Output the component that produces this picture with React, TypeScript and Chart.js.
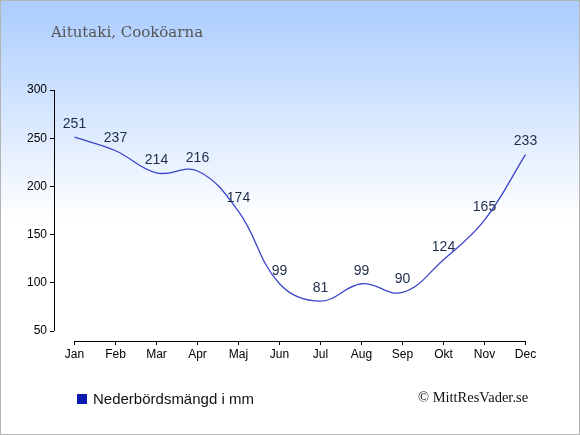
import React, { useEffect, useRef } from "react";
import { Chart, registerables } from "chart.js";

Chart.register(...registerables);

const months = ["Jan", "Feb", "Mar", "Apr", "Maj", "Jun", "Jul", "Aug", "Sep", "Okt", "Nov", "Dec"];
const rainfall = [251, 237, 214, 216, 174, 99, 81, 99, 90, 124, 165, 233];
const yTicks = [50, 100, 150, 200, 250, 300];
const titleText = "Aitutaki, Cooköarna";
const legendText = "Nederbördsmängd i mm";
const creditText = "© MittResVader.se";

const W = 580;
const H = 435;

const bgPlugin = {
  id: "bgPlugin",
  beforeDraw(chart: any) {
    const ctx = chart.ctx;
    ctx.save();
    const g = ctx.createLinearGradient(0, 0, 0, 220);
    g.addColorStop(0, "#aaccff");
    g.addColorStop(1, "#ffffff");
    ctx.fillStyle = g;
    ctx.fillRect(0, 0, W, H);
    ctx.strokeStyle = "#b4b4b4";
    ctx.lineWidth = 1;
    ctx.strokeRect(0.5, 0.5, W - 1, H - 1);
    ctx.restore();
  },
};

const axisPlugin = {
  id: "axisPlugin",
  afterDraw(chart: any) {
    const ctx = chart.ctx;
    const xs = chart.scales.x;
    const ys = chart.scales.y;
    const area = chart.chartArea;
    ctx.save();
    ctx.strokeStyle = "#000";
    ctx.lineWidth = 1;
    const ax = Math.round(area.left) + 0.5;
    ctx.beginPath();
    ctx.moveTo(ax, ys.getPixelForValue(yTicks[yTicks.length - 1]));
    ctx.lineTo(ax, ys.getPixelForValue(yTicks[0]));
    ctx.stroke();
    const ay = Math.round(area.bottom) + 0.5;
    ctx.beginPath();
    ctx.moveTo(xs.getPixelForValue(0), ay);
    ctx.lineTo(xs.getPixelForValue(months.length - 1), ay);
    ctx.stroke();
    ctx.restore();
  },
};

const labelPlugin = {
  id: "labelPlugin",
  afterDatasetsDraw(chart: any) {
    const ctx = chart.ctx;
    const meta = chart.getDatasetMeta(0);
    ctx.save();
    ctx.font = "14px 'Liberation Sans', Arial, sans-serif";
    ctx.fillStyle = "#1e2c4c";
    ctx.textAlign = "center";
    ctx.textBaseline = "middle";
    meta.data.forEach((pt: any, i: number) => {
      ctx.fillText(String(rainfall[i]), pt.x, pt.y - 13);
    });
    ctx.restore();
  },
};

export default function App() {
  const ref = useRef<HTMLCanvasElement | null>(null);

  useEffect(() => {
    document.body.style.margin = "0";
    if (!ref.current) return;
    const chart = new Chart(ref.current, {
      type: "line",
      data: {
        labels: months,
        datasets: [
          {
            label: legendText,
            data: rainfall,
            borderColor: "#3a44c8",
            borderWidth: 1.3,
            pointRadius: 0,
            tension: 0.4,
            fill: false,
            clip: false as any,
          },
        ],
      },
      options: {
        responsive: false,
        animation: false,
        layout: { padding: { left: 0, right: 34, top: 90, bottom: 0 } },
        plugins: {
          legend: { display: false },
          tooltip: { enabled: false },
          title: { display: false },
        },
        scales: {
          x: {
            type: "category",
            offset: true,
            border: { display: false },
            grid: {
              display: true,
              drawOnChartArea: false,
              drawTicks: true,
              tickLength: 4,
              color: "#000",
              offset: false,
            },
            ticks: {
              color: "#000",
              padding: 2,
              maxRotation: 0,
              autoSkip: false,
              font: { family: "'Liberation Sans', Arial, sans-serif", size: 12 },
            },
            afterFit(scale: any) {
              scale.height = 94;
            },
          },
          y: {
            min: 39.63,
            max: 300,
            border: { display: false },
            grid: {
              display: true,
              drawOnChartArea: false,
              drawTicks: true,
              tickLength: 4,
              color: "#000",
            },
            ticks: {
              color: "#000",
              padding: 3,
              font: { family: "'Liberation Sans', Arial, sans-serif", size: 12 },
            },
            afterBuildTicks(scale: any) {
              scale.ticks = yTicks.map((v) => ({ value: v }));
            },
            afterFit(scale: any) {
              scale.width = 54;
            },
          },
        },
      } as any,
      plugins: [bgPlugin, axisPlugin, labelPlugin],
    });
    return () => chart.destroy();
  }, []);

  return (
    <div style={{ position: "relative", width: W, height: H }}>
      <canvas ref={ref} width={W} height={H} style={{ width: W, height: H, display: "block" }} />
      <div
        style={{
          position: "absolute",
          left: 51,
          top: 25,
          fontFamily: "'DejaVu Serif', serif",
          fontSize: 15,
          lineHeight: "15px",
          color: "#555555",
          whiteSpace: "nowrap",
        }}
      >
        {titleText}
      </div>
      <div
        style={{
          position: "absolute",
          left: 77,
          top: 394,
          width: 10,
          height: 10,
          background: "#0b1bb0",
        }}
      />
      <div
        style={{
          position: "absolute",
          left: 93,
          top: 390.5,
          fontFamily: "'Liberation Sans', Arial, sans-serif",
          fontSize: 15,
          lineHeight: "15px",
          color: "#111",
          whiteSpace: "nowrap",
        }}
      >
        {legendText}
      </div>
      <div
        style={{
          position: "absolute",
          left: 418,
          top: 390,
          fontFamily: "'Liberation Serif', serif",
          fontSize: 14.5,
          lineHeight: "14px",
          color: "#111",
          whiteSpace: "nowrap",
        }}
      >
        {creditText}
      </div>
    </div>
  );
}
